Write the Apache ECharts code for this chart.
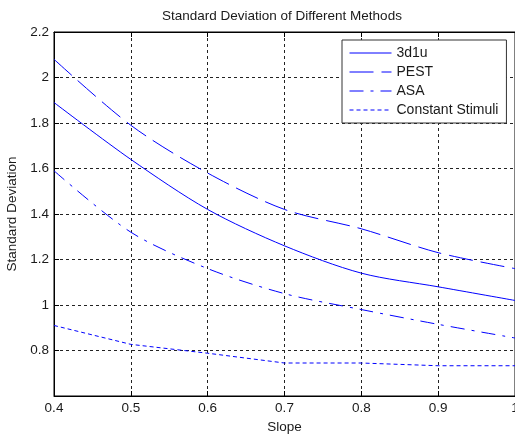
<!DOCTYPE html>
<html>
<head>
<meta charset="utf-8">
<script src="https://cdn.jsdelivr.net/npm/echarts@6/dist/echarts.min.js"></script>
<style>
html,body{margin:0;padding:0;background:#fff;overflow:hidden;}
#chart{width:515px;height:436px;}
</style>
</head>
<body>
<div id="chart"></div>
<script>
var slopes = [0.4, 0.5, 0.6, 0.7, 0.8, 0.9, 1.0];
var sd3d1u = [1.89, 1.64, 1.42, 1.26, 1.14, 1.08, 1.02];
var sdPEST = [2.08, 1.79, 1.58, 1.42, 1.335, 1.23, 1.16];
var sdASA = [1.59, 1.32, 1.16, 1.05, 0.98, 0.915, 0.855];
var sdConst = [0.91, 0.827, 0.788, 0.745, 0.745, 0.733, 0.733];
var seriesNames = ['3d1u', 'PEST', 'ASA', 'Constant Stimuli'];
var titleText = 'Standard Deviation of Different Methods';
var xName = 'Slope';
var yName = 'Standard Deviation';

function pairs(ys) { return slopes.map(function (x, i) { return [x, ys[i]]; }); }

var FONT = 'Liberation Sans, Arial, sans-serif';
var TXT = '#1a1a1a';
var BLUE = '#0000ff';
var gridLine = { show: true, lineStyle: { color: '#222', type: [3, 3], width: 1 } };

var chart = echarts.init(document.getElementById('chart'), null, { renderer: 'canvas' });
chart.setOption({
  animation: false,
  backgroundColor: '#fff',
  title: {
    text: titleText, left: 162, top: 9, padding: 0,
    textStyle: { fontFamily: FONT, fontSize: 13.5, fontWeight: 'normal', color: TXT }
  },
  grid: { left: 54, top: 32, right: 0, bottom: 40, show: true, borderColor: '#000', borderWidth: 1,
    backgroundColor: '#fff', containLabel: false, outerBoundsMode: 'none' },
  legend: {
    data: seriesNames, orient: 'vertical', left: 342, top: 40,
    padding: [6, 8, 6, 7], itemGap: 5, itemWidth: 42, itemHeight: 14,
    backgroundColor: '#fff', borderColor: '#333', borderWidth: 1, borderRadius: 0,
    itemStyle: { opacity: 0 },
    lineStyle: { width: 1 },
    textStyle: { fontFamily: FONT, fontSize: 14, color: TXT, padding: [0, 0, 0, 0] }
  },
  xAxis: [{
    type: 'value', min: 0.4, max: 1, interval: 0.1, position: 'bottom',
    name: xName, nameLocation: 'middle', nameGap: 20,
    nameTextStyle: { fontFamily: FONT, fontSize: 13.5, color: TXT },
    axisLine: { show: true, lineStyle: { color: '#000', width: 1 } },
    axisTick: { show: true, inside: true, length: 5, lineStyle: { color: '#000' } },
    axisLabel: { fontFamily: FONT, fontSize: 13.5, color: TXT, margin: 5,
      formatter: function (v) { return String(Math.round(v * 10) / 10); } },
    splitLine: gridLine
  }, {
    type: 'value', min: 0.4, max: 1, interval: 0.1, position: 'top',
    axisLine: { show: true, lineStyle: { color: '#000', width: 1 } },
    axisTick: { show: true, inside: true, length: 5, lineStyle: { color: '#000' } },
    axisLabel: { show: false }, splitLine: { show: false }
  }],
  yAxis: {
    type: 'value', min: 0.6, max: 2.2, interval: 0.2,
    name: yName, nameLocation: 'middle', nameGap: 33,
    nameTextStyle: { fontFamily: FONT, fontSize: 13.5, color: TXT },
    axisLine: { show: true, lineStyle: { color: '#000', width: 1 } },
    axisTick: { show: true, inside: true, length: 5, lineStyle: { color: '#000' } },
    axisLabel: { fontFamily: FONT, fontSize: 13.5, color: TXT, margin: 5,
      formatter: function (v) { var r = Math.round(v * 10) / 10; return r === 0.6 ? '' : String(r); } },
    splitLine: gridLine
  },
  series: [
    { name: seriesNames[0], type: 'line', data: pairs(sd3d1u), showSymbol: false, symbol: 'none', smooth: 0.3,
      lineStyle: { color: BLUE, width: 1, type: 'solid' }, itemStyle: { color: BLUE } },
    { name: seriesNames[1], type: 'line', data: pairs(sdPEST), showSymbol: false, symbol: 'none', smooth: 0.3,
      lineStyle: { color: BLUE, width: 1, type: [24, 8] }, itemStyle: { color: BLUE } },
    { name: seriesNames[2], type: 'line', data: pairs(sdASA), showSymbol: false, symbol: 'none', smooth: 0.3,
      lineStyle: { color: BLUE, width: 1, type: [14, 7, 3, 7] }, itemStyle: { color: BLUE } },
    { name: seriesNames[3], type: 'line', data: pairs(sdConst), showSymbol: false, symbol: 'none', smooth: false,
      lineStyle: { color: BLUE, width: 1, type: [4, 3] }, itemStyle: { color: BLUE } }
  ]
});
</script>
</body>
</html>
